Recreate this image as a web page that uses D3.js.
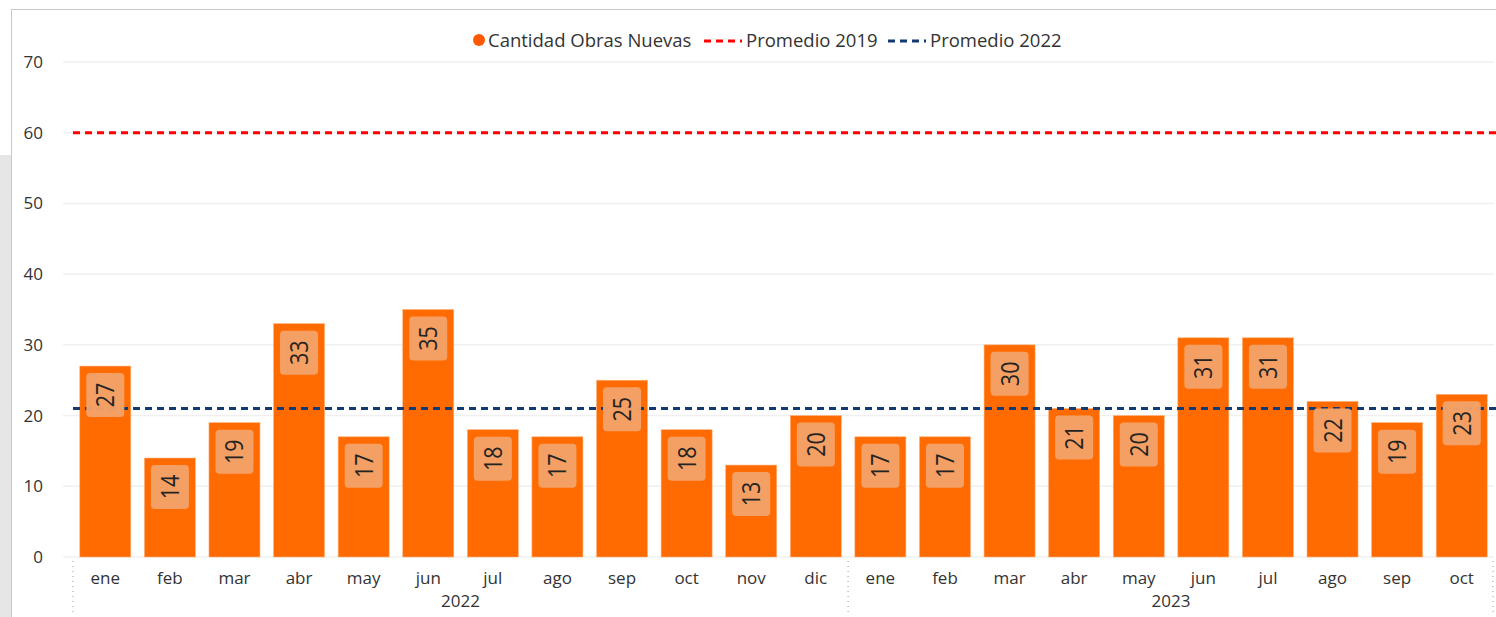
<!DOCTYPE html>
<html>
<head>
<meta charset="utf-8">
<script src="https://cdn.jsdelivr.net/npm/d3@7"></script>
<style>
  body { margin: 0; background: #fff; }
  svg { display: block; font-family: "Open Sans", "Noto Sans", sans-serif; }
</style>
</head>
<body>
<div id="chart"></div>
<script>
const months = ["ene","feb","mar","abr","may","jun","jul","ago","sep","oct","nov","dic",
                "ene","feb","mar","abr","may","jun","jul","ago","sep","oct"];
const years = ["2022","2022","2022","2022","2022","2022","2022","2022","2022","2022","2022","2022",
               "2023","2023","2023","2023","2023","2023","2023","2023","2023","2023"];
const obras = [27,14,19,33,17,35,18,17,25,18,13,20, 17,17,30,21,20,31,31,22,19,23];
const promedio2019 = 60;
const promedio2022 = 21;
const yTicks = [0,10,20,30,40,50,60,70];

const W = 1496, H = 617;
const margin = {top: 62, right: 2, bottom: 60, left: 73},
    width = W - margin.left - margin.right,
    height = 557 - margin.top;

const svg = d3.select("#chart")
  .append("svg")
    .attr("width", W)
    .attr("height", H);

// frame
svg.append("rect").attr("x", 0).attr("y", 155).attr("width", 11).attr("height", H - 155).attr("fill", "#e6e6e6");
svg.append("line").attr("x1", 11.5).attr("x2", 11.5).attr("y1", 9).attr("y2", H).attr("stroke", "#c8c8c8");
svg.append("line").attr("x1", 11).attr("x2", W).attr("y1", 9.5).attr("y2", 9.5).attr("stroke", "#c8c8c8");

const g = svg.append("g")
    .attr("transform", "translate(" + margin.left + "," + margin.top + ")");

const keys = months.map((m, i) => i);
const x = d3.scaleBand()
  .domain(keys)
  .range([0, width])
  .paddingInner(0.21)
  .paddingOuter(0.105);

const y = d3.scaleLinear()
  .domain([0, 70])
  .range([height, 0]);

// gridlines + y labels
g.selectAll(".grid")
  .data(yTicks)
  .enter().append("line")
  .attr("x1", -10).attr("x2", width)
  .attr("y1", d => y(d)).attr("y2", d => y(d))
  .attr("stroke", "#f0f0f0").attr("stroke-width", 1.5);

g.selectAll(".ylab")
  .data(yTicks)
  .enter().append("text")
  .attr("x", -30).attr("y", d => y(d))
  .attr("dy", "0.35em")
  .attr("text-anchor", "end")
  .attr("fill", "#333")
  .style("font-size", "17px")
  .text(d => d);

// bars
g.selectAll(".bar")
  .data(obras)
  .enter().append("rect")
  .attr("x", (d, i) => x(i))
  .attr("y", d => y(d))
  .attr("width", x.bandwidth())
  .attr("height", d => height - y(d))
  .attr("fill", "#ff6b00")
  .attr("stroke", "#ffb27a").attr("stroke-width", 0.6);

// average lines
g.append("line")
  .attr("x1", 0).attr("x2", width + 4)
  .attr("y1", y(promedio2019)).attr("y2", y(promedio2019))
  .attr("stroke", "#ff0000").attr("stroke-width", 3).attr("stroke-dasharray", "7,5");

g.append("line")
  .attr("x1", 0).attr("x2", width + 4)
  .attr("y1", y(promedio2022)).attr("y2", y(promedio2022))
  .attr("stroke", "#123a73").attr("stroke-width", 3).attr("stroke-dasharray", "7,5");

// data labels
const lab = g.selectAll(".dl")
  .data(obras)
  .enter().append("g")
  .attr("transform", (d, i) => "translate(" + (x(i) + x.bandwidth() / 2) + "," + (y(d) + 29) + ")");

lab.append("rect")
  .attr("x", -19).attr("y", -22)
  .attr("width", 38).attr("height", 44)
  .attr("rx", 4)
  .attr("fill", "#f3a36a")
  .attr("fill-opacity", 0.95);

lab.append("text")
  .attr("transform", "rotate(-90) scale(0.86,1)")
  .attr("text-anchor", "middle")
  .attr("dy", "0.36em")
  .attr("fill", "#252423")
  .style("font-size", "25px")
  .text(d => d);

// x labels
g.selectAll(".mlab")
  .data(months)
  .enter().append("text")
  .attr("x", (d, i) => x(i) + x.bandwidth() / 2)
  .attr("y", height + 27)
  .attr("text-anchor", "middle")
  .attr("fill", "#333")
  .style("font-size", "17px")
  .text(d => d);

// year groups
const yearNames = Array.from(new Set(years));
const step = x.step();
const groups = yearNames.map(yr => {
  const idx = years.map((v, i) => v === yr ? i : -1).filter(i => i >= 0);
  return {yr: yr, first: idx[0], last: idx[idx.length - 1]};
});

const sepX = i => i === 0 ? 0 : x(i) - (step - x.bandwidth()) / 2;
const seps = [0, groups[1].first];
g.selectAll(".sep")
  .data(seps)
  .enter().append("line")
  .attr("x1", d => sepX(d)).attr("x2", d => sepX(d))
  .attr("y1", height + 4).attr("y2", height + 56)
  .attr("stroke", "#999").attr("stroke-dasharray", "1,4");
g.append("line")
  .attr("x1", width - 1).attr("x2", width - 1)
  .attr("y1", height + 4).attr("y2", height + 56)
  .attr("stroke", "#999").attr("stroke-dasharray", "1,4");

g.selectAll(".ylabel")
  .data(groups)
  .enter().append("text")
  .attr("x", (d, i) => {
    const a = sepX(d.first);
    const b = i === groups.length - 1 ? width : sepX(groups[i + 1].first);
    return (a + b) / 2;
  })
  .attr("y", height + 50)
  .attr("text-anchor", "middle")
  .attr("fill", "#333")
  .style("font-size", "17px")
  .text(d => d.yr);

// legend
const leg = svg.append("g").attr("transform", "translate(0,41)");
leg.append("circle").attr("cx", 479).attr("cy", -1).attr("r", 6).attr("fill", "#ff5a00");
leg.append("text").attr("x", 488).attr("dy", "0.35em").attr("fill", "#333").style("font-size", "18.5px").text("Cantidad Obras Nuevas");
leg.append("line").attr("x1", 704).attr("x2", 742).attr("stroke", "#ff0000").attr("stroke-width", 3).attr("stroke-dasharray", "7,5");
leg.append("text").attr("x", 746).attr("dy", "0.35em").attr("fill", "#333").style("font-size", "18.5px").text("Promedio 2019");
leg.append("line").attr("x1", 888).attr("x2", 926).attr("stroke", "#123a73").attr("stroke-width", 3).attr("stroke-dasharray", "7,5");
leg.append("text").attr("x", 930).attr("dy", "0.35em").attr("fill", "#333").style("font-size", "18.5px").text("Promedio 2022");
</script>
</body>
</html>
